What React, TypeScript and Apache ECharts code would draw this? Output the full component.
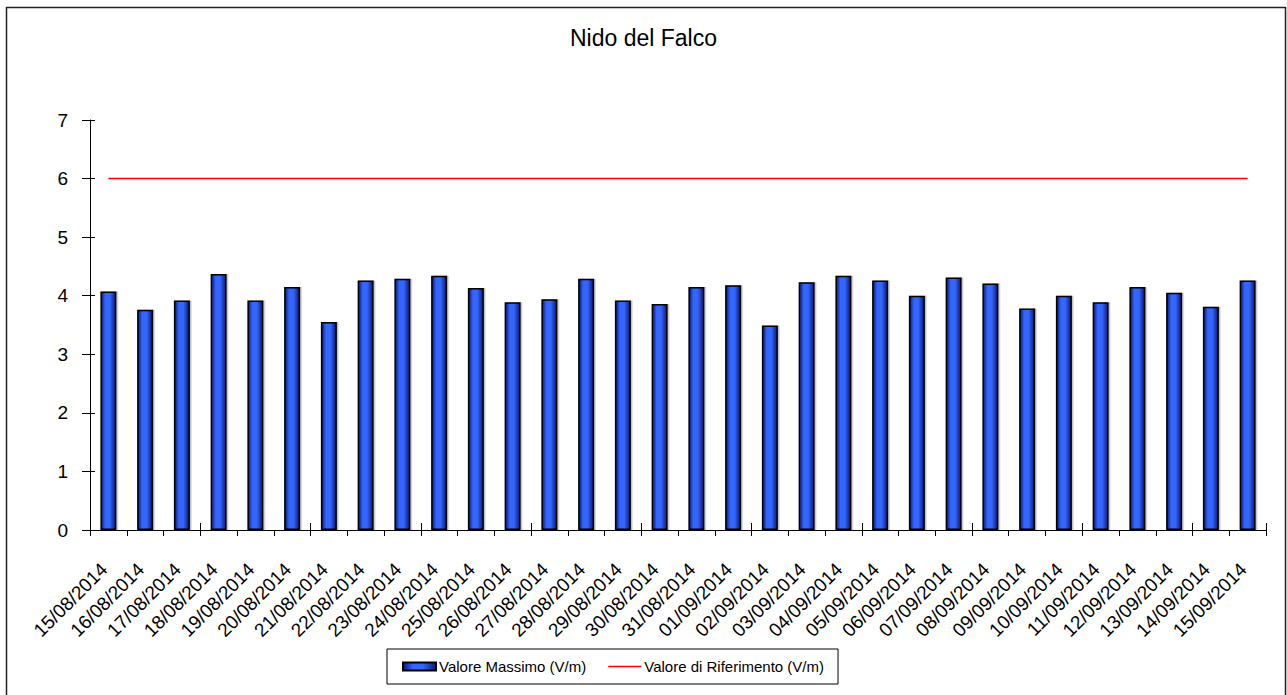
import React, { useEffect, useRef } from "react";
import * as echarts from "echarts";

const categories = [
  "15/08/2014", "16/08/2014", "17/08/2014", "18/08/2014", "19/08/2014", "20/08/2014",
  "21/08/2014", "22/08/2014", "23/08/2014", "24/08/2014", "25/08/2014", "26/08/2014",
  "27/08/2014", "28/08/2014", "29/08/2014", "30/08/2014", "31/08/2014", "01/09/2014",
  "02/09/2014", "03/09/2014", "04/09/2014", "05/09/2014", "06/09/2014", "07/09/2014",
  "08/09/2014", "09/09/2014", "10/09/2014", "11/09/2014", "12/09/2014", "13/09/2014",
  "14/09/2014", "15/09/2014",
];

const maxValues = [
  4.07, 3.76, 3.92, 4.37, 3.92, 4.15, 3.55, 4.26, 4.29, 4.34, 4.13, 3.89,
  3.94, 4.29, 3.92, 3.86, 4.15, 4.18, 3.49, 4.23, 4.34, 4.26, 4.0, 4.31,
  4.21, 3.78, 4.0, 3.89, 4.15, 4.05, 3.81, 4.26,
];

const referenceValues = [
  6, 6, 6, 6, 6, 6, 6, 6, 6, 6, 6, 6, 6, 6, 6, 6,
  6, 6, 6, 6, 6, 6, 6, 6, 6, 6, 6, 6, 6, 6, 6, 6,
];

const yTicks = { min: 0, max: 7, interval: 1 };

const FONT = "'Liberation Sans', Arial, sans-serif";

export default function App() {
  const ref = useRef<HTMLDivElement>(null);

  useEffect(() => {
    if (!ref.current) return;
    const chart = echarts.init(ref.current, null, { renderer: "svg" });
    const barGradient = new echarts.graphic.LinearGradient(0, 0, 1, 0, [
      { offset: 0, color: "#0a1870" },
      { offset: 0.3, color: "#3366ff" },
      { offset: 0.6, color: "#3366ff" },
      { offset: 1, color: "#0a1870" },
    ]);
    chart.setOption({
      animation: false,
      backgroundColor: "#ffffff",
      textStyle: { fontFamily: FONT, color: "#000" },
      title: {
        text: "Nido del Falco",
        left: "center",
        top: 26,
        padding: 0,
        textStyle: { fontFamily: FONT, fontSize: 23, fontWeight: "normal", color: "#000" },
      },
      graphic: [
        {
          type: "rect",
          shape: { x: 6.5, y: 7.5, width: 1279, height: 700 },
          style: { fill: "none", stroke: "#222", lineWidth: 1.5 },
          silent: true,
        },
      ],
      legend: {
        left: 387,
        top: 649,
        orient: "horizontal",
        padding: [10, 14, 10, 15],
        borderColor: "#000",
        borderWidth: 1,
        itemWidth: 33,
        itemHeight: 8,
        itemGap: 22,
        textStyle: { fontFamily: FONT, fontSize: 15, color: "#000", padding: [0, 0, 0, -2] },
        data: [
          { name: "Valore Massimo (V/m)", icon: "rect" },
          { name: "Valore di Riferimento (V/m)", icon: "path://M0,0L100,0L100,5L0,5Z" },
        ],
      },
      grid: { left: 90, right: 21, top: 120, bottom: 165 },
      xAxis: [
        {
          type: "category",
          data: categories,
          position: "bottom",
          boundaryGap: true,
          axisLine: { show: true, lineStyle: { color: "#000", width: 1 } },
          axisTick: { show: true, inside: false, length: 6, lineStyle: { color: "#000" } },
          axisLabel: {
            rotate: 45,
            interval: 0,
            margin: 32,
            padding: [0, 6, 0, 0],
            fontFamily: FONT,
            fontSize: 19,
            color: "#000",
          },
          splitLine: { show: false },
        },
        {
          type: "category",
          data: categories,
          position: "bottom",
          boundaryGap: true,
          axisLine: { show: false },
          axisTick: { show: true, inside: true, length: 7, lineStyle: { color: "#000" } },
          axisLabel: { show: false },
          splitLine: { show: false },
        },
      ],
      yAxis: [
        {
          type: "value",
          position: "left",
          min: yTicks.min,
          max: yTicks.max,
          interval: yTicks.interval,
          axisLine: { show: true, lineStyle: { color: "#000", width: 1 } },
          axisTick: { show: true, inside: false, length: 8, lineStyle: { color: "#000" } },
          axisLabel: { margin: 22, fontFamily: FONT, fontSize: 19, color: "#000" },
          splitLine: { show: false },
        },
        {
          type: "value",
          position: "left",
          min: yTicks.min,
          max: yTicks.max,
          interval: yTicks.interval,
          axisLine: { show: false },
          axisTick: { show: true, inside: true, length: 5, lineStyle: { color: "#000" } },
          axisLabel: { show: false },
          splitLine: { show: false },
        },
      ],
      series: [
        {
          name: "Valore Massimo (V/m)",
          type: "bar",
          xAxisIndex: 0,
          yAxisIndex: 0,
          data: maxValues,
          barWidth: 16,
          itemStyle: {
            color: barGradient,
            borderColor: "#000",
            borderWidth: 1.5,
            shadowColor: "rgba(0,0,0,0.25)",
            shadowOffsetX: 1.5,
            shadowOffsetY: 0,
            shadowBlur: 0,
          },
        },
        {
          name: "Valore di Riferimento (V/m)",
          type: "line",
          xAxisIndex: 0,
          yAxisIndex: 0,
          data: referenceValues,
          symbol: "none",
          lineStyle: { color: "#ff0000", width: 1.5 },
          itemStyle: { color: "#ff0000" },
        },
      ],
    });
    return () => chart.dispose();
  }, []);

  return (
    <div
      ref={ref}
      style={{ position: "fixed", left: 0, top: 0, width: 1287, height: 695, background: "#fff" }}
    />
  );
}
